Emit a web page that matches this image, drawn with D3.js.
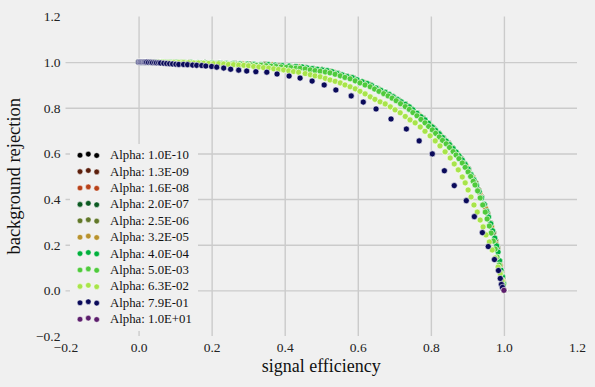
<!DOCTYPE html>
<html><head><meta charset="utf-8">
<script src="https://cdn.jsdelivr.net/npm/d3@7"></script>
<style>html,body{margin:0;padding:0;background:#f0f0f0;} svg{display:block;}</style>
</head><body><svg id="chart" width="595" height="387"></svg>
<script>
// ---------- data ----------
const alphaLabels = ["1.0E-10","1.3E-09","1.6E-08","2.0E-07","2.5E-06","3.2E-05","4.0E-04","5.0E-03","6.3E-02","7.9E-01","1.0E+01"];
const seriesColors = ["#000000","#5c1f0c","#b8421a","#0b5a22","#62782a","#b8922e","#00b03c","#4fca3c","#a8e44a","#0a0a5a","#5c1e6c"];
const tickValues = [-0.2, 0.0, 0.2, 0.4, 0.6, 0.8, 1.0, 1.2];

// early alphas (1.0E-10 .. 2.5E-06): signal efficiency / background rejection
const effEarly = [.018,.059,.100,.141,.182,.223,.264,.305,.346,.387,.428,.458,.480,.502,.524,.546,.568,.590,.612,.634,.656,.675,.694,.713,.730,.746,.763,.779,.793,.807,.821,.834,.848,.859,.870,.881,.892,.903,.914,.922,.930,.938,.947,.955,.963,.971,.977,.982,.988,.993,.997,1.0];
const rejEarly = [1,1,.999,.998,.997,.996,.994,.992,.989,.985,.980,.975,.971,.966,.960,.950,.939,.928,.914,.901,.883,.868,.850,.832,.815,.796,.776,.754,.733,.711,.688,.667,.644,.625,.603,.581,.556,.530,.497,.472,.441,.411,.374,.338,.295,.252,.216,.186,.130,.082,.053,0];
// 3.2E-05
const effGold = [.039,.120,.202,.284,.366,.440,.491,.535,.579,.620,.660,.700,.736,.768,.800,.826,.853,.875,.897,.916,.934,.950,.966,.979,.990,.998];
const rejGold = [1,.999,.997,.993,.988,.980,.969,.955,.934,.909,.879,.845,.809,.768,.722,.681,.635,.594,.545,.490,.425,.359,.280,.202,.110,.040];
// 4.0E-04
const effGreen = [.010,.029,.048,.067,.086,.105,.125,.144,.163,.182,.201,.220,.240,.259,.278,.297,.316,.335,.355,.374,.393,.412,.431,.448,.461,.475,.489,.502,.516,.530,.543,.557,.571,.585,.598,.612,.626,.638,.650,.663,.675,.686,.697,.708,.719,.730,.741,.751,.762,.773,.784,.794,.804,.813,.823,.832,.842,.851,.861,.869,.877,.886,.894,.902,.910,.918,.925,.932,.939,.946,.953,.958,.964,.969,.975,.980,.984,.988,.992,.996,.999,1.0];
const rejGreen = [1,1,1,1,.999,.999,.998,.998,.997,.997,.997,.996,.995,.994,.993,.992,.991,.990,.989,.987,.985,.983,.981,.979,.975,.972,.969,.966,.963,.958,.951,.944,.937,.932,.923,.914,.906,.897,.887,.877,.868,.859,.848,.837,.826,.815,.804,.791,.776,.761,.747,.732,.716,.701,.686,.670,.654,.639,.621,.606,.590,.571,.552,.532,.507,.484,.460,.433,.405,.377,.346,.321,.292,.261,.229,.195,.168,.130,.089,.061,.030,0];
// 5.0E-03
const effMid = [.007,.021,.034,.048,.062,.075,.089,.103,.116,.130,.144,.157,.171,.185,.198,.212,.226,.240,.253,.267,.281,.294,.308,.322,.335,.349,.363,.376,.390,.404,.417,.431,.442,.456,.470,.483,.497,.511,.524,.538,.552,.565,.579,.593,.606,.620,.634,.646,.658,.671,.683,.694,.705,.717,.730,.741,.751,.762,.773,.784,.794,.804,.813,.823,.832,.842,.851,.861,.869,.877,.886,.894,.902,.909,.916,.921,.928,.935,.942,.949,.954,.960,.965,.971,.976,.981,.987,.991,.995,.998,1.0];
const rejMid = [1,1,.999,.999,.999,.999,.998,.998,.998,.997,.997,.996,.996,.995,.995,.994,.993,.992,.991,.990,.989,.988,.987,.986,.986,.984,.982,.981,.979,.977,.976,.974,.973,.970,.966,.963,.960,.957,.953,.947,.940,.933,.927,.918,.909,.900,.892,.882,.872,.862,.852,.842,.831,.818,.805,.793,.779,.765,.749,.734,.718,.703,.688,.672,.657,.642,.626,.608,.593,.577,.558,.539,.519,.499,.478,.462,.436,.405,.374,.343,.313,.282,.251,.216,.181,.146,.111,.076,.045,.023,0];
// 6.3E-02
const effLime = [0,.014,.027,.041,.055,.068,.082,.096,.110,.123,.137,.151,.164,.178,.192,.205,.219,.233,.246,.260,.274,.288,.301,.315,.329,.342,.356,.370,.383,.397,.411,.424,.438,.456,.470,.483,.497,.511,.524,.538,.552,.565,.579,.593,.606,.620,.634,.647,.661,.675,.689,.702,.716,.730,.743,.757,.771,.784,.798,.812,.825,.839,.853,.864,.875,.886,.894,.902,.910,.918,.927,.935,.943,.951,.960,.968,.976,.984,.990,.995,1.0];
const rejLime = [1,1,.999,.999,.999,.999,.998,.998,.998,.998,.997,.996,.996,.995,.994,.993,.993,.992,.990,.989,.987,.986,.984,.981,.979,.976,.974,.971,.968,.966,.962,.959,.956,.950,.945,.940,.936,.929,.922,.916,.909,.900,.892,.883,.872,.861,.848,.837,.826,.817,.804,.791,.778,.762,.747,.734,.716,.697,.677,.655,.633,.607,.580,.554,.528,.497,.471,.440,.409,.374,.343,.308,.278,.243,.212,.177,.142,.102,.072,.041,0];
// 7.9E-01
const effNavy = [0,.003,.005,.008,.011,.014,.016,.019,.022,.027,.033,.038,.044,.049,.055,.060,.069,.077,.085,.093,.102,.110,.123,.134,.148,.159,.173,.184,.200,.214,.233,.252,.274,.296,.321,.351,.379,.412,.442,.475,.508,.540,.582,.615,.650,.691,.733,.768,.804,.837,.864,.897,.919,.941,.957,.974,.985,.990,.993,.996];
const rejNavy = [1,1,1,1,1,1,1,1,1,.999,.999,.998,.998,.997,.997,.996,.995,.994,.993,.992,.991,.990,.990,.989,.987,.986,.985,.983,.981,.978,.974,.969,.965,.961,.958,.956,.948,.939,.930,.917,.900,.878,.852,.825,.795,.751,.707,.655,.598,.524,.459,.393,.323,.253,.192,.135,.087,.052,.026,.013];
// 1.0E+01
const effPurple = [1.0];
const rejPurple = [0.0];

const seriesEff = [effEarly,effEarly,effEarly,effEarly,effEarly,effGold,effGreen,effMid,effLime,effNavy,effPurple];
const seriesRej = [rejEarly,rejEarly,rejEarly,rejEarly,rejEarly,rejGold,rejGreen,rejMid,rejLime,rejNavy,rejPurple];

// ---------- drawing ----------
(function () {
const FONT = "'Liberation Serif','DejaVu Serif',serif";
const svg = d3.select("#chart");
svg.append("rect").attr("width",595).attr("height",387).attr("fill","#f0f0f0");

const pLeft = 65.5, pRight = 577, pTop = 16.5, pBottom = 336;
const x = d3.scaleLinear().domain([-0.2,1.2]).range([pLeft,pRight]);
const y = d3.scaleLinear().domain([-0.2,1.2]).range([pBottom,pTop]);
const inner = tickValues.slice(1, -1);

// grid
const gx = svg.append("g").attr("transform",`translate(0,${pBottom})`)
  .call(d3.axisBottom(x).tickValues(inner).tickSize(-(pBottom-pTop)).tickFormat(""));
const gy = svg.append("g").attr("transform",`translate(${pLeft},0)`)
  .call(d3.axisLeft(y).tickValues(inner).tickSize(-(pRight-pLeft)).tickFormat(""));
[gx,gy].forEach(g => {
  g.select(".domain").remove();
  g.selectAll(".tick line").attr("stroke","#cbcbcb").attr("stroke-width",1.4);
});

// tick labels
const fmt = d3.format(".1f");
const lx = svg.append("g").attr("transform",`translate(0,${pBottom})`)
  .call(d3.axisBottom(x).tickValues(tickValues).tickSize(0).tickPadding(6.4).tickFormat(fmt));
const ly = svg.append("g").attr("transform",`translate(${pLeft},0)`)
  .call(d3.axisLeft(y).tickValues(tickValues).tickSize(0).tickPadding(5).tickFormat(fmt));
[lx,ly].forEach(g => {
  g.select(".domain").remove();
  g.selectAll("text").attr("font-family",FONT).attr("font-size","13.5px").attr("fill","#222");
});

// scatter series
const plot = svg.append("g");
seriesEff.forEach((eff, i) => {
  const pts = d3.zip(eff, seriesRej[i]);
  plot.append("g").selectAll("circle").data(pts).join("circle")
    .attr("cx", d => x(d[0])).attr("cy", d => y(d[1]))
    .attr("r", 3.05)
    .attr("fill", seriesColors[i])
    .attr("stroke", "#ffffff").attr("stroke-width", 0.6);
});

// legend
const lg = svg.append("g");
lg.append("rect").attr("x",70).attr("y",144).attr("width",128).attr("height",187).attr("fill","#f0f0f0");
const dotDx = [80, 88.3, 96.7], dotDy = [0.4, -0.7, 0.7];
alphaLabels.forEach((lab, i) => {
  const cy = 154.8 + i * 16.4;
  const row = lg.append("g");
  dotDx.forEach((dx, k) => {
    row.append("circle").attr("cx", dx).attr("cy", cy + dotDy[k]).attr("r", 2.8)
      .attr("fill", seriesColors[i]).attr("stroke","#ffffff").attr("stroke-width",0.5);
  });
  row.append("text").attr("x",110).attr("y",cy + 4.3)
    .attr("font-family",FONT).attr("font-size","12.8px").attr("fill","#111")
    .text("Alpha: " + lab);
});

// axis titles
svg.append("text").attr("x",(pLeft+pRight)/2).attr("y",372).attr("text-anchor","middle")
  .attr("font-family",FONT).attr("font-size","18px").attr("fill","#111").text("signal efficiency");
svg.append("text").attr("transform",`translate(20,${(pTop+pBottom)/2}) rotate(-90)`).attr("text-anchor","middle")
  .attr("font-family",FONT).attr("font-size","18.5px").attr("fill","#111").text("background rejection");
})();
</script></body></html>
